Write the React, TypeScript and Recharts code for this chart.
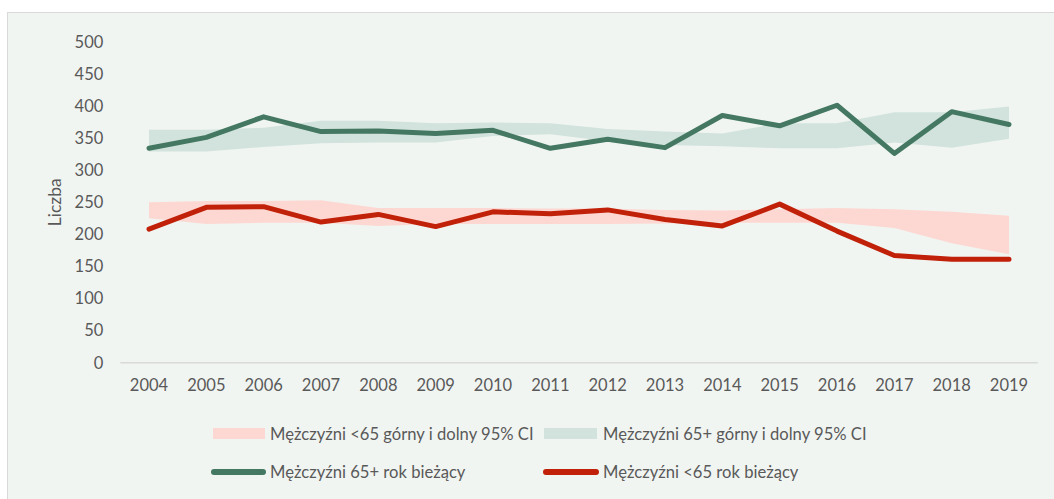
import { Area, ComposedChart, Line, XAxis, YAxis } from 'recharts';

const years = ['2004', '2005', '2006', '2007', '2008', '2009', '2010', '2011', '2012', '2013', '2014', '2015', '2016', '2017', '2018', '2019'];

const men65Current = [334, 351, 383, 360, 361, 357, 362, 334, 348, 335, 385, 369, 401, 326, 391, 371];
const men65Low = [329, 329, 336, 342, 343, 343, 353, 356, 345, 339, 337, 334, 334, 343, 335, 349];
const men65High = [363, 363, 366, 377, 377, 373, 374, 373, 364, 360, 357, 373, 373, 390, 390, 399];

const menU65Current = [208, 242, 243, 219, 231, 212, 235, 232, 238, 223, 213, 247, 205, 167, 161, 161];
const menU65Low = [225, 216, 218, 218, 213, 216, 216, 216, 216, 217, 218, 218, 218, 210, 186, 169];
const menU65High = [250, 252, 252, 253, 241, 241, 241, 240, 240, 238, 237, 239, 241, 239, 235, 229];

const yTicks = [0, 50, 100, 150, 200, 250, 300, 350, 400, 450, 500];

const GREEN = '#447862';
const RED = '#c02108';
const GREEN_BAND = '#d1e3dc';
const RED_BAND = '#fdd8d2';
const TEXT = '#595959';
const FONT = 'Lato, "Open Sans", sans-serif';

const data = years.map((year, i) => ({
  year,
  men65: men65Current[i],
  menU65: menU65Current[i],
  men65Band: [men65Low[i], men65High[i]],
  menU65Band: [menU65Low[i], menU65High[i]],
}));

function ChartLegend() {
  const text = { position: 'absolute' as const, fontSize: 16.6, color: TEXT, fontFamily: FONT, lineHeight: '22px', whiteSpace: 'nowrap' as const };
  return (
    <div style={{ position: 'absolute', left: 0, top: 0, width: 1054, height: 499 }}>
      <div style={{ position: 'absolute', left: 213, top: 428, width: 52, height: 11, background: RED_BAND }} />
      <span style={{ ...text, left: 270, top: 423 }}>Mężczyźni &lt;65 górny i dolny 95% CI</span>
      <div style={{ position: 'absolute', left: 544, top: 428, width: 53, height: 11, background: GREEN_BAND }} />
      <span style={{ ...text, left: 603, top: 423 }}>Mężczyźni 65+ górny i dolny 95% CI</span>
      <div style={{ position: 'absolute', left: 211, top: 469, width: 55, height: 6, borderRadius: 3, background: GREEN }} />
      <span style={{ ...text, left: 270, top: 461 }}>Mężczyźni 65+ rok bieżący</span>
      <div style={{ position: 'absolute', left: 543, top: 469, width: 56, height: 6, borderRadius: 3, background: RED }} />
      <span style={{ ...text, left: 603, top: 461 }}>Mężczyźni &lt;65 rok bieżący</span>
    </div>
  );
}

export default function App() {
  return (
    <div style={{ position: 'absolute', left: 0, top: 0, width: 1054, height: 499, background: '#ffffff', overflow: 'hidden' }}>
      <div
        style={{
          position: 'absolute',
          left: 7,
          top: 12,
          width: 1047,
          height: 487,
          background: '#f1f5f2',
          borderLeft: '1.5px solid #d9d9d9',
          borderTop: '1.5px solid #d9d9d9',
          boxSizing: 'border-box',
        }}
      />
      <div style={{ position: 'absolute', left: 0, top: 0 }}>
        <ComposedChart
          width={1054}
          height={499}
          data={data}
          margin={{ top: 41.7, right: 16.3, left: 60.3, bottom: 96.3 }}
          style={{ fontFamily: FONT }}
        >
          <XAxis
            dataKey="year"
            padding={{ left: 28.7, right: 28.7 }}
            axisLine={{ stroke: '#d9d9d9', strokeWidth: 1.5 }}
            tickLine={false}
            tickSize={0}
            tickMargin={17}
            tick={{ fill: TEXT, fontSize: 16.5 }}
            height={40}
          />
          <YAxis
            domain={[0, 500]}
            ticks={yTicks}
            interval={0}
            axisLine={false}
            tickLine={false}
            tickSize={0}
            tickMargin={17}
            width={60}
            tick={{ fill: TEXT, fontSize: 16.5 }}
            label={(props: any) => {
              const vb = props.viewBox || {};
              const cx = 55;
              const cy = (vb.y ?? 41.7) + (vb.height ?? 321) / 2;
              return (
                <text x={cx} y={cy} transform={`rotate(-90 ${cx} ${cy})`} textAnchor="middle" dominantBaseline="central" fill={TEXT} fontSize={17.5} fontFamily={FONT}>
                  Liczba
                </text>
              );
            }}
          />
          <Area dataKey="men65Band" type="linear" stroke="none" fill={GREEN_BAND} fillOpacity={1} isAnimationActive={false} legendType="none" />
          <Area dataKey="menU65Band" type="linear" stroke="none" fill={RED_BAND} fillOpacity={1} isAnimationActive={false} legendType="none" />
          <Line dataKey="men65" type="linear" stroke={GREEN} strokeWidth={5} dot={false} strokeLinecap="round" strokeLinejoin="round" isAnimationActive={false} />
          <Line dataKey="menU65" type="linear" stroke={RED} strokeWidth={5} dot={false} strokeLinecap="round" strokeLinejoin="round" isAnimationActive={false} />
        </ComposedChart>
      </div>
      <ChartLegend />
    </div>
  );
}
